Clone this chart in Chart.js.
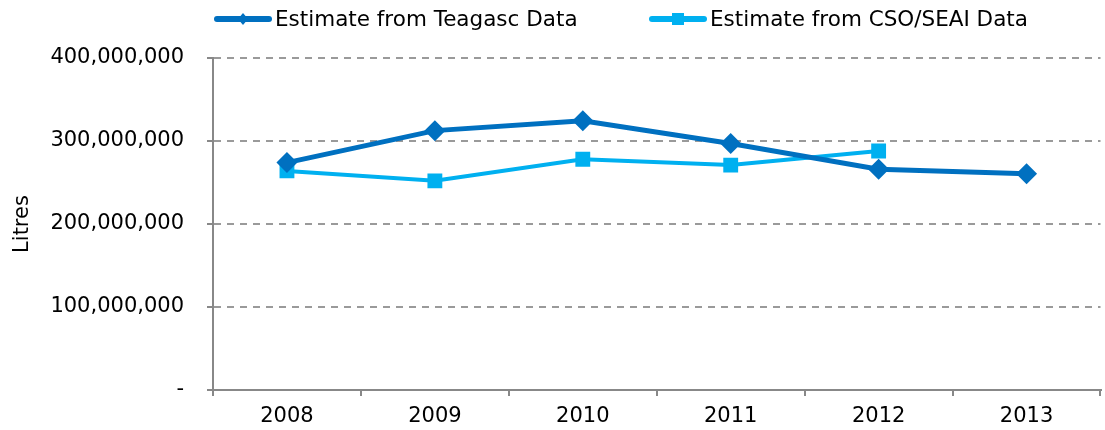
<!DOCTYPE html>
<html lang="en">
<head>
    <meta charset="UTF-8">
    <title>Estimated volume (Litres)</title>
    <script src="https://cdn.jsdelivr.net/npm/chart.js"></script>
    <style>
        html, body { margin: 0; padding: 0; background: #fff; overflow: hidden; }
        /* a bit wider than the window: the original is cropped on the right */
        .chart-box { position: relative; width: 1111px; height: 430px; }
    </style>
</head>
<body>
<div class="chart-box">
    <canvas id="myChart"></canvas>
</div>
<script>
    // Data
    const years = ['2008', '2009', '2010', '2011', '2012', '2013'];
    const teagascValues = [274000000, 312500000, 324500000, 297000000, 266000000, 260500000];
    const csoValues = [264000000, 252000000, 278000000, 271000000, 288000000, null];
    const yTicks = [0, 100000000, 200000000, 300000000, 400000000];

    const darkBlue = '#0070C0';
    const lightBlue = '#00B0F0';
    const fontFamily = '"DejaVu Sans", Verdana, sans-serif';
    const fontSize = 21;

    Chart.defaults.font.family = fontFamily;
    Chart.defaults.font.size = fontSize;
    Chart.defaults.color = '#000';

    // Legend with line + marker, like the spreadsheet original
    const lineLegend = {
        id: 'lineLegend',
        afterDraw(chart) {
            const ctx = chart.ctx;
            const starts = [213, 648];
            const y = 19;
            chart.data.datasets.forEach((ds, i) => {
                const x = starts[i];
                ctx.save();
                ctx.strokeStyle = ds.borderColor;
                ctx.lineWidth = 6;
                ctx.lineCap = 'round';
                ctx.beginPath();
                ctx.moveTo(x + 4, y);
                ctx.lineTo(x + 56, y);
                ctx.stroke();
                ctx.fillStyle = ds.backgroundColor;
                const cx = x + 30;
                if (ds.pointStyle === 'rectRot') {
                    ctx.beginPath();
                    ctx.moveTo(cx, y - 6);
                    ctx.lineTo(cx + 5, y);
                    ctx.lineTo(cx, y + 6);
                    ctx.lineTo(cx - 5, y);
                    ctx.closePath();
                    ctx.fill();
                } else {
                    ctx.fillRect(cx - 6, y - 6, 12, 12);
                }
                ctx.fillStyle = '#000';
                ctx.font = '21.5px ' + fontFamily;
                ctx.textBaseline = 'middle';
                ctx.fillText(ds.label, x + 62, y + 1);
                ctx.restore();
            });
        }
    };

    const ctx = document.getElementById('myChart').getContext('2d');
    new Chart(ctx, {
        type: 'line',
        data: {
            labels: years,
            datasets: [{
                label: 'Estimate from Teagasc Data',
                data: teagascValues,
                borderColor: darkBlue,
                backgroundColor: darkBlue,
                borderWidth: 5,
                pointStyle: 'rectRot',
                pointRadius: 10.5,
                pointHoverRadius: 10.5,
                pointBorderWidth: 0,
                tension: 0
            }, {
                label: 'Estimate from CSO/SEAI Data',
                data: csoValues,
                borderColor: lightBlue,
                backgroundColor: lightBlue,
                borderWidth: 4,
                pointStyle: 'rect',
                pointRadius: 10.5,
                pointHoverRadius: 10.5,
                pointBorderWidth: 0,
                tension: 0
            }]
        },
        options: {
            responsive: true,
            maintainAspectRatio: false,
            animation: false,
            layout: { padding: { top: 58, right: 0, left: 0, bottom: 0 } },
            plugins: {
                legend: { display: false },
                tooltip: { enabled: false }
            },
            scales: {
                x: {
                    offset: true,
                    grid: {
                        offset: true,
                        drawOnChartArea: false,
                        drawTicks: true,
                        tickLength: 6,
                        color: '#888',
                        lineWidth: 2
                    },
                    border: { color: '#888', width: 2 },
                    ticks: { padding: 8 },
                    afterFit(scale) { scale.height = 40; }
                },
                y: {
                    min: 0,
                    max: 400000000,
                    afterBuildTicks(scale) {
                        scale.ticks = yTicks.map(v => ({ value: v }));
                    },
                    grid: {
                        color: '#9a9a9a',
                        lineWidth: 2,
                        tickLength: 6,
                        tickColor: '#888',
                        tickBorderDash: [],
                        tickWidth: 2
                    },
                    // in v4 the dash of the grid lines lives under border
                    border: { color: '#888', width: 2, dash: [7, 6] },
                    ticks: {
                        padding: 23,
                        callback: (v) => v === 0 ? '-' : v.toLocaleString('en-US')
                    },
                    title: {
                        display: true,
                        text: 'Litres',
                        padding: { top: 10, bottom: 0 }
                    },
                    afterFit(scale) { scale.width = 213; }
                }
            }
        },
        plugins: [lineLegend]
    });
</script>
</body>
</html>
